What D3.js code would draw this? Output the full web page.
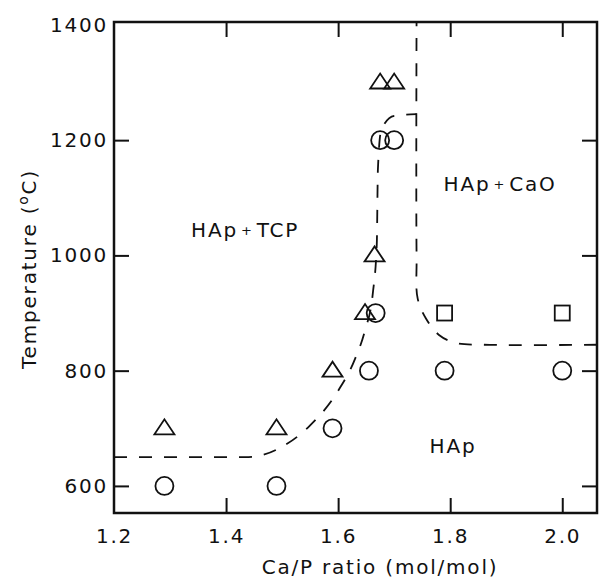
<!DOCTYPE html>
<html>
<head>
<meta charset="utf-8">
<script src="https://cdn.jsdelivr.net/npm/d3@7"></script>
<style>
  body { margin: 0; background: #fff; }
  text { font-family: 'DejaVu Sans', sans-serif; fill: #111; }
</style>
</head>
<body>
<div id="chart"></div>
<script>
'use strict'

// data
const circles = [[1.29, 600], [1.49, 600], [1.59, 700], [1.655, 800], [1.667, 900],
  [1.675, 1200], [1.70, 1200], [1.79, 800], [2.0, 800]]
const triangles = [[1.29, 700], [1.49, 700], [1.59, 800], [1.648, 900], [1.665, 1000],
  [1.675, 1300], [1.70, 1300]]
const squares = [[1.79, 900], [2.0, 900]]

// left boundary (HAp+TCP / HAp)
const tcpBoundary = [[1.2, 650], [1.44, 650], [1.5, 668], [1.55, 705], [1.6, 765],
  [1.63, 820], [1.648, 870], [1.662, 935], [1.669, 1020], [1.671, 1150],
  [1.677, 1218], [1.70, 1242], [1.74, 1245]]
// right boundary (HAp / HAp+CaO)
const caoBoundary = [[1.74, 1420], [1.74, 1000], [1.742, 925], [1.757, 890],
  [1.78, 862], [1.81, 848], [1.86, 845], [2.07, 845]]

const xTicks = [1.2, 1.4, 1.6, 1.8, 2.0]
const yTicks = [600, 800, 1000, 1200, 1400]

const regionLabels = [
  {text: ['HAp', '+', 'TCP'], x: 1.434, y: 1044},
  {text: ['HAp', '+', 'CaO'], x: 1.889, y: 1124},
  {text: ['HAp'], x: 1.805, y: 669}
]

const W = 600, H = 580
const m = {left: 114, right: 3, top: 22, bottom: 67}
const fs = 20, ls = 1.8

const svg = d3.select('#chart').append('svg')
  .attr('width', W).attr('height', H)

const x = d3.scaleLinear().domain([1.2, 2.062]).range([m.left, W - m.right])
const y = d3.scaleLinear().domain([553, 1405]).range([H - m.bottom, m.top])

svg.append('clipPath').attr('id', 'plot')
  .append('rect')
  .attr('x', m.left).attr('y', m.top)
  .attr('width', W - m.left - m.right).attr('height', H - m.top - m.bottom)

// boundaries
const line = d3.line().x(d => x(d[0])).y(d => y(d[1]))
const lines = svg.append('g').attr('clip-path', 'url(#plot)')
  .attr('fill', 'none').attr('stroke', '#111').attr('stroke-width', 1.8)
  .attr('stroke-dasharray', '13,12')
lines.append('path').attr('d', line.curve(d3.curveMonotoneX)(tcpBoundary))
lines.append('path').attr('d', line.curve(d3.curveCatmullRom.alpha(0.5))(caoBoundary))

// axes, ticks point inward
const tickLen = 15
const axB = svg.append('g').attr('transform', `translate(0, ${H - m.bottom})`)
  .call(d3.axisBottom(x).tickValues(xTicks).tickSizeInner(-tickLen).tickSizeOuter(0).tickPadding(16).tickFormat(d3.format('.1f')))
const axT = svg.append('g').attr('transform', `translate(0, ${m.top})`)
  .call(d3.axisTop(x).tickValues(xTicks.slice(1)).tickSizeInner(-tickLen).tickSizeOuter(0).tickFormat(''))
const axL = svg.append('g').attr('transform', `translate(${m.left}, 0)`)
  .call(d3.axisLeft(y).tickValues(yTicks).tickSizeInner(-tickLen).tickSizeOuter(0).tickPadding(6).tickFormat(d3.format('d')))
const axR = svg.append('g').attr('transform', `translate(${W - m.right}, 0)`)
  .call(d3.axisRight(y).tickValues(yTicks.slice(0, 4)).tickSizeInner(-tickLen).tickSizeOuter(0).tickFormat(''))

;[axB, axT, axL, axR].forEach(g => {
  g.select('.domain').remove()
  g.selectAll('line').attr('stroke', '#111').attr('stroke-width', 2)
  g.selectAll('text').attr('font-size', fs).attr('font-family', 'DejaVu Sans, sans-serif')
    .attr('fill', '#111').attr('letter-spacing', ls)
})
axB.selectAll('.tick').filter(d => d === 1.2).select('line').remove()
axL.selectAll('.tick').filter(d => d === 1400).select('line').remove()

svg.append('rect')
  .attr('x', m.left).attr('y', m.top)
  .attr('width', W - m.left - m.right).attr('height', H - m.top - m.bottom)
  .attr('fill', 'none').attr('stroke', '#111').attr('stroke-width', 2.5)

// markers
const marks = svg.append('g').attr('fill', 'none').attr('stroke', '#111').attr('stroke-width', 1.8)
marks.selectAll('circle.c').data(circles).join('circle')
  .attr('class', 'c')
  .attr('cx', d => x(d[0])).attr('cy', d => y(d[1])).attr('r', 9)
marks.selectAll('path.t').data(triangles).join('path')
  .attr('class', 't')
  .attr('d', d => {
    let cx = x(d[0]), cy = y(d[1])
    return `M ${cx - 10} ${cy + 6} L ${cx + 10} ${cy + 6} L ${cx} ${cy - 9} Z`
  })
marks.selectAll('rect.s').data(squares).join('rect')
  .attr('class', 's')
  .attr('x', d => x(d[0]) - 7.5).attr('y', d => y(d[1]) - 7.5)
  .attr('width', 15).attr('height', 15)

// region labels
regionLabels.forEach(r => {
  let t = svg.append('text')
    .attr('x', x(r.x)).attr('y', y(r.y))
    .attr('text-anchor', 'middle').attr('dominant-baseline', 'central')
    .attr('font-size', fs).attr('letter-spacing', ls)
  r.text.forEach((s, i) => {
    t.append('tspan').text(s)
      .attr('font-size', s === '+' ? 13 : fs)
      .attr('dx', i > 0 ? 3 : 0)
  })
})

// axis titles
svg.append('text')
  .attr('x', 380).attr('y', 574)
  .attr('text-anchor', 'middle').attr('font-size', fs).attr('letter-spacing', ls)
  .text('Ca/P ratio (mol/mol)')

const yt = svg.append('text')
  .attr('transform', `translate(36, 269) rotate(-90)`)
  .attr('text-anchor', 'middle').attr('font-size', fs).attr('letter-spacing', ls)
yt.append('tspan').text('Temperature (')
yt.append('tspan').text('o').attr('font-size', 14).attr('dy', -8)
yt.append('tspan').text('C)').attr('dy', 8)
</script>
</body>
</html>
